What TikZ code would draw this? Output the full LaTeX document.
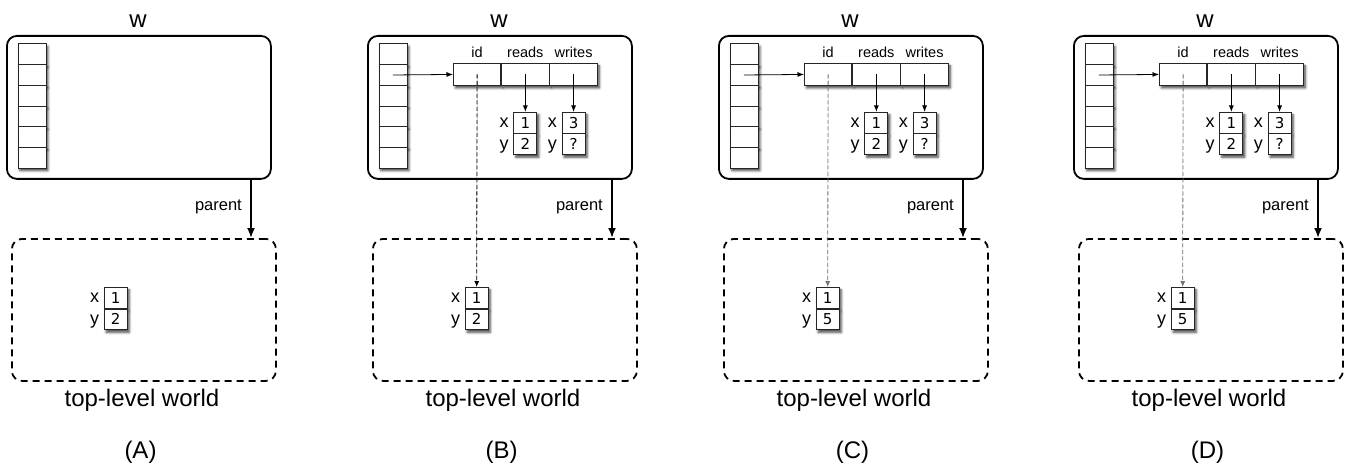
\documentclass[tikz,border=0pt]{standalone}
\usepackage{fontspec}
\setmainfont{Liberation Sans}
\newfontfamily\digitfont{DejaVu Sans}
\usetikzlibrary{arrows.meta,shadows.blur}
\tikzset{
  wbox/.style={draw, line width=1.8pt, rounded corners=10pt, inner sep=0pt, anchor=north west},
  tlbox/.style={draw, line width=1.8pt, rounded corners=10pt, dash pattern=on 7pt off 5pt, inner sep=0pt, anchor=north west},
  cellbase/.style={draw=black!85, line width=0.9pt, fill=white, inner sep=0pt,
    blur shadow={shadow xshift=2pt, shadow yshift=-2.5pt, shadow blur radius=2.5pt, shadow opacity=75}},
  stackcell/.style={cellbase, minimum width=28pt, minimum height=20.7pt},
  reccell/.style={cellbase, minimum width=47.33pt, minimum height=22pt},
  valcell/.style={cellbase, minimum width=23pt, minimum height=20.7pt, font=\digitfont\fontsize{15}{16}\selectfont},
  biglbl/.style={font=\fontsize{24}{26}\selectfont, inner sep=0pt},
  parentlbl/.style={font=\fontsize{16.5}{18}\selectfont, inner sep=0pt},
  fieldlbl/.style={font=\fontsize{14.5}{16}\selectfont, inner sep=0pt, anchor=base},
  xylbl/.style={font=\fontsize{18}{18}\selectfont, inner sep=0pt, anchor=base east},
  thinarrow/.style={-{Latex[length=6.5pt,width=5pt]}, line width=0.8pt},
  parentarrow/.style={-{Latex[length=10pt,width=8pt]}, line width=1.8pt},
  idarrow/.style={-{Latex[length=6pt,width=5pt]}, line width=0.8pt, dash pattern=on 4pt off 2.5pt}
}
\begin{document}
\begin{tikzpicture}[x=1pt,y=-1pt]
\useasboundingbox (0,0) rectangle (1348,465);
\foreach \p/\dx/\yv in {A/0/2,B/361/2,C/712/5,D/1067/5}{
  \node[biglbl] (wl\p) at (\dx+138,21) {w};
  \node[wbox, minimum width=264pt, minimum height=143pt] (w\p) at (\dx+6,35) {};
  \foreach \i in {1,...,6}{
    \node[stackcell, anchor=north west] (s\p\i) at (\dx+17.5,{43.5+20.7*(\i-1)}) {};
  }
  \node[tlbox, minimum width=264pt, minimum height=142pt] (tl\p) at (\dx+11,238) {};
  \coordinate (pc\p) at (\dx+251,0);
  \draw[parentarrow] (w\p.south -| pc\p) -- (tl\p.north -| pc\p);
  \node[parentlbl, anchor=east] (pl\p) at (\dx+242,207) {parent};
  \node[valcell, anchor=north] (tx\p) at (\dx+115.7,287) {1};
  \node[valcell, anchor=north] (ty\p) at (tx\p.south) {\yv};
  \node[xylbl] (txl\p) at ([xshift=-4.5pt,yshift=-4.8pt]tx\p.west) {x};
  \node[xylbl] (tyl\p) at ([xshift=-4.5pt,yshift=-4.8pt]ty\p.west) {y};
  \node[biglbl] (tw\p) at (\dx+142,400) {top-level world};
  \node[biglbl] (cap\p) at (\dx+140.5,452) {(\p)};
}
\foreach \p/\dx/\dc in {B/361/black,C/712/black!55,D/1067/black!55}{
  \node[reccell, anchor=north west] (r\p1) at (\dx+92,63) {};
  \node[reccell, anchor=west] (r\p2) at (r\p1.east) {};
  \node[reccell, anchor=west] (r\p3) at (r\p2.east) {};
  \node[fieldlbl] (lid\p) at ([yshift=5.5pt]r\p1.north) {id};
  \node[fieldlbl] (lrd\p) at ([yshift=5.5pt]r\p2.north) {reads};
  \node[fieldlbl] (lwr\p) at ([yshift=5.5pt]r\p3.north) {writes};
  \node[valcell, anchor=north] (rx\p) at ([yshift=-26pt]r\p2.south) {1};
  \node[valcell, anchor=north] (ry\p) at (rx\p.south) {2};
  \node[valcell, anchor=north] (wx\p) at ([yshift=-26pt]r\p3.south) {3};
  \node[valcell, anchor=north] (wy\p) at (wx\p.south) {?};
  \node[xylbl] (rxl\p) at ([xshift=-4.5pt,yshift=-4.8pt]rx\p.west) {x};
  \node[xylbl] (ryl\p) at ([xshift=-4.5pt,yshift=-4.8pt]ry\p.west) {y};
  \node[xylbl] (wxl\p) at ([xshift=-4.5pt,yshift=-4.8pt]wx\p.west) {x};
  \node[xylbl] (wyl\p) at ([xshift=-4.5pt,yshift=-4.8pt]wy\p.west) {y};
  \draw[thinarrow] (s\p2.center) -- (r\p1.west);
  \draw[thinarrow] (r\p2.center) -- (rx\p.north);
  \draw[thinarrow] (r\p3.center) -- (wx\p.north);
  \draw[idarrow, draw=\dc, fill=\dc] (r\p1.center) -- (tx\p.north);
}
\end{tikzpicture}
\end{document}
